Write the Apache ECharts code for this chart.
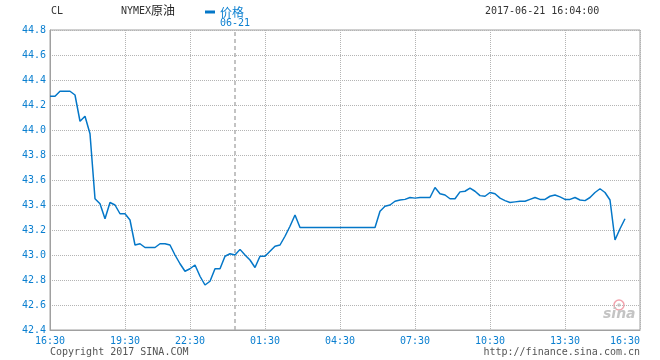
<!DOCTYPE html>
<html>
<head>
<meta charset="utf-8">
<script src="https://cdn.jsdelivr.net/npm/echarts@6/dist/echarts.min.js"></script>
<style>html,body{margin:0;padding:0;background:#fff;}#c{width:660px;height:360px;}</style>
</head>
<body>
<div id="c"></div>
<script>
// X axis tick labels and the sample slots they sit on
const tickLabels = ['16:30','19:30','22:30','01:30','04:30','07:30','10:30','13:30','16:30'];
const tickSlots = [0, 15, 28, 43, 58, 73, 88, 103, 118];
const daySlot = 37;
const dayLabel = '06-21';
const seriesName = '价格';

// price samples (one per slot)
const prices = [
  44.27, 44.27, 44.31, 44.31, 44.31, 44.28, 44.07, 44.11, 43.97, 43.45,
  43.41, 43.29, 43.42, 43.40, 43.33, 43.33, 43.28, 43.08, 43.09, 43.06,
  43.06, 43.06, 43.09, 43.09, 43.08, 43.00, 42.93, 42.87, 42.89, 42.92,
  42.83, 42.76, 42.79, 42.89, 42.89, 42.99, 43.01, 43.00, 43.045, 43.00,
  42.96, 42.90, 42.99, 42.99, 43.03, 43.07, 43.08, 43.15, 43.23, 43.32,
  43.22, 43.22, 43.22, 43.22, 43.22, 43.22, 43.22, 43.22, 43.22, 43.22,
  43.22, 43.22, 43.22, 43.22, 43.22, 43.22, 43.35, 43.39, 43.40, 43.43,
  43.44, 43.445, 43.46, 43.455, 43.46, 43.46, 43.46, 43.54, 43.49, 43.48,
  43.45, 43.45, 43.505, 43.51, 43.535, 43.51, 43.475, 43.47, 43.50, 43.49,
  43.455, 43.435, 43.42, 43.425, 43.43, 43.43, 43.445, 43.46, 43.445, 43.445,
  43.47, 43.48, 43.465, 43.445, 43.445, 43.46, 43.44, 43.435, 43.46, 43.50,
  43.53, 43.50, 43.44, 43.12, 43.21, 43.29, null, null, null
];

const categories = prices.map((_, i) => {
  const k = tickSlots.indexOf(i);
  return k >= 0 ? tickLabels[k] : '';
});

const BLUE = '#0a7fd0';
const MONO = "'DejaVu Sans Mono', monospace";

const chart = echarts.init(document.getElementById('c'), null, {renderer: 'canvas'});
chart.setOption({
  animation: false,
  backgroundColor: '#fff',
  grid: {left: 50, right: 20, top: 30, bottom: 30, show: true, borderColor: '#a0a0a0', borderWidth: 1},
  legend: {
    left: 200, top: 1,
    data: [seriesName],
    icon: 'rect', itemWidth: 10, itemHeight: 3, itemGap: 5,
    textStyle: {color: BLUE, fontSize: 12, fontFamily: "'Noto Sans CJK SC', sans-serif"}
  },
  xAxis: {
    type: 'category',
    data: categories,
    boundaryGap: false,
    axisLine: {lineStyle: {color: '#a0a0a0'}},
    axisTick: {show: false},
    axisLabel: {
      interval: (i, v) => v !== '',
      color: BLUE, fontSize: 10, fontFamily: MONO, margin: 6,
      alignMaxLabel: 'right'
    },
    splitLine: {
      show: true,
      interval: (i, v) => v !== '',
      lineStyle: {color: '#b4b4b4', type: [1, 1], width: 1}
    }
  },
  yAxis: {
    type: 'value',
    min: 42.4, max: 44.8, interval: 0.2,
    axisLine: {show: true, lineStyle: {color: '#a0a0a0'}},
    axisTick: {show: false},
    axisLabel: {
      color: BLUE, fontSize: 10, fontFamily: MONO, margin: 4,
      formatter: v => v.toFixed(1)
    },
    splitLine: {lineStyle: {color: '#b4b4b4', type: [1, 1], width: 1}}
  },
  series: [{
    name: seriesName,
    type: 'line',
    data: prices,
    showSymbol: false,
    symbol: 'none',
    connectNulls: false,
    itemStyle: {color: '#0477c8'},
    lineStyle: {color: '#0477c8', width: 1.5},
    markLine: {
      silent: true,
      symbol: 'none',
      lineStyle: {color: '#b0b0b0', type: [4, 3], width: 1.5},
      label: {show: true, position: 'end', formatter: dayLabel, color: BLUE, fontSize: 10, fontFamily: MONO, distance: 2},
      data: [{xAxis: daySlot}]
    }
  }],
  graphic: [
    {type: 'text', left: 51, top: 6, style: {text: 'CL', fill: '#333', font: "10px " + MONO}},
    {type: 'text', left: 121, top: 6, style: {text: 'NYMEX', fill: '#333', font: "10px " + MONO}},
    {type: 'text', left: 151, top: 4, style: {text: '原油', fill: '#222', font: "12px 'Noto Sans CJK SC'"}},
    {type: 'text', left: 485, top: 6, style: {text: '2017-06-21 16:04:00', fill: '#333', font: "10px " + MONO}},
    {type: 'text', left: 50, top: 347, style: {text: 'Copyright 2017 SINA.COM', fill: '#555', font: "10px " + MONO}},
    {type: 'text', right: 20, top: 347, style: {text: 'http://finance.sina.com.cn', fill: '#555', font: "10px " + MONO}},
    {type: 'circle', shape: {cx: 619, cy: 305, r: 5}, style: {fill: 'none', stroke: '#f2a3ad', lineWidth: 1.5}},
    {type: 'circle', shape: {cx: 619, cy: 305, r: 1.8}, style: {fill: '#c9c9c9'}},
    {type: 'text', left: 603, top: 307, style: {text: 'sina', fill: '#c4c4c4', font: "italic bold 14px 'DejaVu Sans'"}}
  ]
});
</script>
</body>
</html>
